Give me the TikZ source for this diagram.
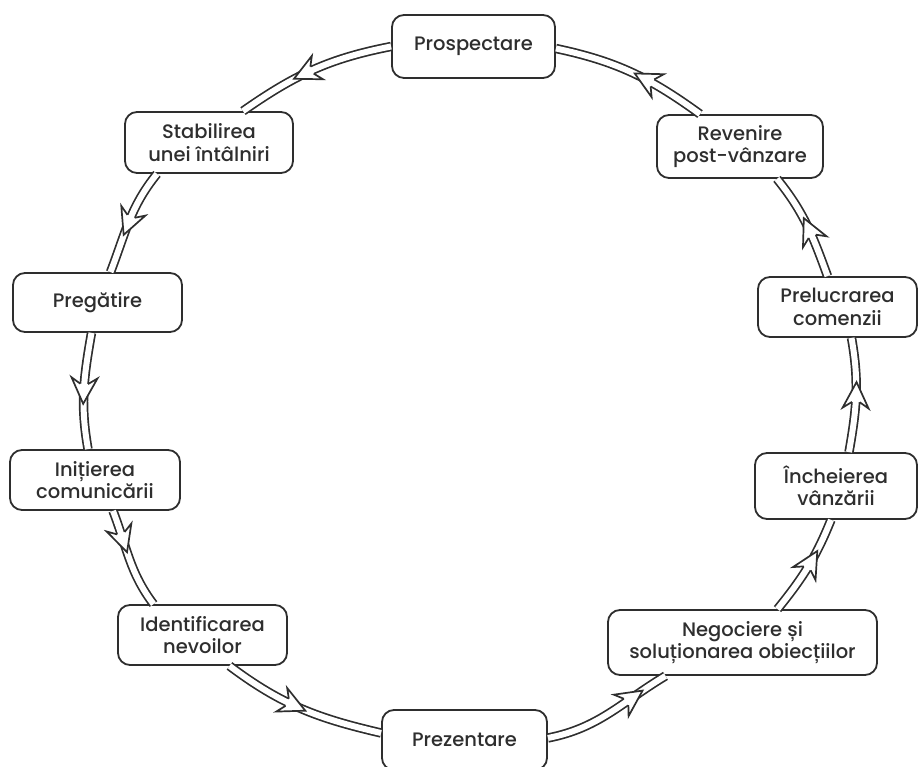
\documentclass[tikz,border=0pt]{standalone}
\usepackage{fontspec}
\setmainfont{Poppins}[UprightFont={* Medium}]
\usetikzlibrary{decorations.markings}
\definecolor{ink}{HTML}{2E2E2E}
\newcommand{\headshape}{%
  \fill[white] (-7pt,3.9pt) -- (-13pt,13pt) -- (13pt,0pt) -- (-13pt,-13pt) -- (-7pt,-3.9pt) -- cycle;
  \draw[ink, line width=1.7pt, line join=miter] (-7pt,3.9pt) -- (-13pt,13pt) -- (13pt,0pt) -- (-13pt,-13pt) -- (-7pt,-3.9pt);}
\tikzset{
  box/.style={draw=ink, line width=1.8pt, rounded corners=12pt, fill=white, text=ink,
    align=center, inner sep=0pt, font=\fontsize{19.5}{22.5}\selectfont},
  flow/.style={draw=ink, line width=1.7pt, double=white, double distance=6pt,
    postaction={decorate},
    decoration={markings, mark=at position #1 with {\headshape}}},
  flow/.default=0.5
}
\begin{document}
\begin{tikzpicture}[x=1pt,y=1pt]
\useasboundingbox (0,0) rectangle (918,767);
\fill[white] (0,0) rectangle (918,767);
\node[box, minimum width=163pt, minimum height=63pt] (P) at (473.5,720.5) {Prospectare};
\node[box, minimum width=168pt, minimum height=61pt] (S) at (209,624.5) {Stabilirea\\unei întâlniri};
\node[box, minimum width=169pt, minimum height=59pt] (G) at (97.5,464.5) {Pregătire};
\node[box, minimum width=170pt, minimum height=60pt] (I) at (95,287) {Inițierea\\comunicării};
\node[box, minimum width=169pt, minimum height=60pt] (N) at (202.5,132) {Identificarea\\nevoilor};
\node[box, minimum width=165pt, minimum height=60pt] (Z) at (464.5,27) {Prezentare};
\node[box, minimum width=269pt, minimum height=65pt] (O) at (742.5,124.5) {Negociere și\\soluționarea obiecțiilor};
\node[box, minimum width=162pt, minimum height=66pt] (C) at (836,281) {Încheierea\\vânzării};
\node[box, minimum width=159pt, minimum height=60pt] (L) at (837.5,460) {Prelucrarea\\comenzii};
\node[box, minimum width=166pt, minimum height=63pt] (R) at (740,620.5) {Revenire\\post-vânzare};

\draw[flow=0.55] (P.west) to[out=191, in=35] ([xshift=34pt]S.north);
\draw[flow=0.52] ([xshift=-52pt]S.south) to[out=231, in=69] ([xshift=13pt]G.north);
\draw[flow=0.5] ([xshift=-6pt]G.south) to[out=260, in=100] ([xshift=-7pt]I.north);
\draw[flow=0.3] ([xshift=18pt]I.south) to[out=291, in=127] ([xshift=-49pt]N.north);
\draw[flow=0.45] ([xshift=27pt]N.south) to[out=-37, in=167] ([yshift=7pt]Z.west);
\draw[flow=0.7] ([yshift=2pt]Z.east) to[out=11, in=211] ([xshift=-77pt]O.south);
\draw[flow=0.55] ([xshift=35pt]O.north) to[out=51, in=248] ([xshift=-5pt]C.south);
\draw[flow=0.5] ([xshift=13pt]C.north) to[out=80, in=280] ([xshift=14pt]L.south);
\draw[flow=0.45] ([xshift=-10pt]L.north) to[out=110, in=309] ([xshift=37pt]R.south);
\draw[flow=0.4] ([xshift=-40pt]R.north) to[out=144, in=348] ([yshift=-2pt]P.east);
\end{tikzpicture}
\end{document}
